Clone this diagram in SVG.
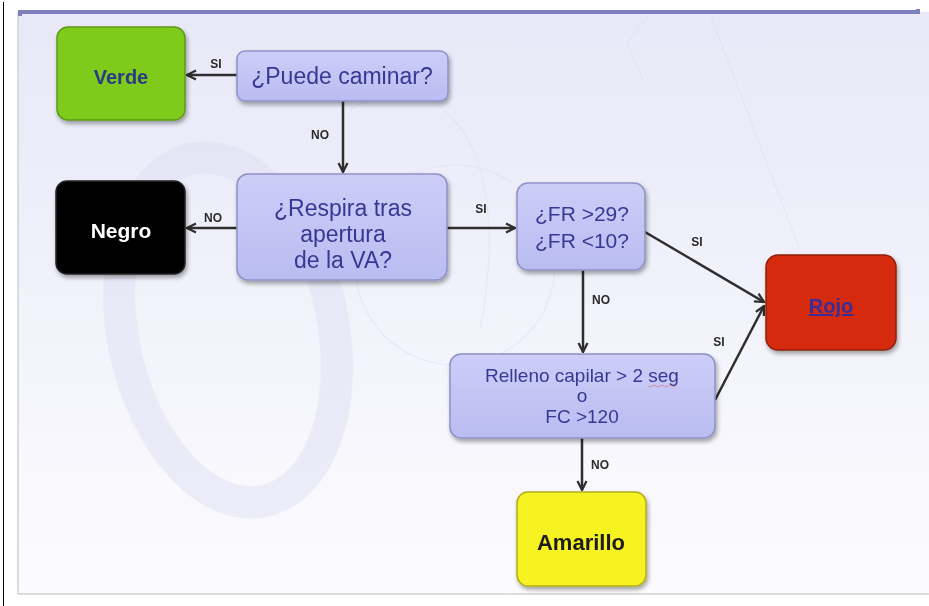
<svg xmlns="http://www.w3.org/2000/svg" width="929" height="606" viewBox="0 0 929 606">
<style>
.box{stroke-width:1.5}
.q{fill:url(#lav);stroke:#8e91c6}
.qt{font-family:"Liberation Sans",Arial,sans-serif;fill:#363894;text-anchor:middle}
.rt{font-family:"Liberation Sans",Arial,sans-serif;font-weight:bold;text-anchor:middle}
.lbl{font-family:"Liberation Sans",Arial,sans-serif;font-weight:bold;font-size:12px;fill:#2a2a2a;text-anchor:middle}
.con{stroke:#2e2e2e;stroke-width:2.5;fill:none;marker-end:url(#ah)}
.wm{fill:none;stroke:#d9d9f0}
</style>
<defs>
<linearGradient id="bg" x1="0" y1="0" x2="0" y2="1">
<stop offset="0" stop-color="#e8e8f8"/>
<stop offset="0.6" stop-color="#f4f4fc"/>
<stop offset="1" stop-color="#fcfcfe"/>
</linearGradient>
<linearGradient id="lav" x1="0" y1="0" x2="0" y2="1">
<stop offset="0" stop-color="#ccceF8"/>
<stop offset="1" stop-color="#b9bcf0"/>
</linearGradient>
<filter id="sh" x="-10%" y="-10%" width="130%" height="140%">
<feDropShadow dx="1.5" dy="3" stdDeviation="2.2" flood-color="#000" flood-opacity="0.35"/>
</filter>
<marker id="ah" viewBox="0 0 10 10" refX="9" refY="5" markerWidth="4.5" markerHeight="4.5" orient="auto" markerUnits="strokeWidth">
<path d="M1,1 L9,5 L1,9" fill="none" stroke="#2e2e2e" stroke-width="2"/>
</marker>
</defs>
<rect x="0" y="0" width="929" height="606" fill="#ffffff"/>
<line x1="3.5" y1="2" x2="3.5" y2="606" stroke="#000" stroke-width="1"/>
<rect x="18" y="12" width="911" height="582" fill="url(#bg)"/>
<line x1="18" y1="12" x2="18" y2="594" stroke="#d0d0d8" stroke-width="1.5"/>
<line x1="18" y1="594" x2="929" y2="594" stroke="#d0d0d6" stroke-width="1.5"/>
<path d="M20,16 L20,12 L918,12 L918,9" fill="none" stroke="#7c80bd" stroke-width="4"/>
<g id="watermark" opacity="0.4">
<ellipse cx="228" cy="330" rx="105" ry="175" transform="rotate(-12 228 330)" stroke-width="32" class="wm"/>
<circle cx="455" cy="265" r="100" stroke-width="1.2" class="wm"/>
<path d="M350,110 C420,60 520,120 480,330" stroke-width="1.2" class="wm"/>
<line x1="710" y1="14" x2="800" y2="250" stroke-width="1.2" class="wm"/>
<path d="M650,14 L627,43 L643,80" stroke-width="1.2" class="wm"/>
</g>
<g id="connectors">
<line class="con" x1="237" y1="75" x2="187" y2="75"/>
<line class="con" x1="343" y1="101" x2="343" y2="172"/>
<line class="con" x1="237" y1="228" x2="187" y2="228"/>
<line class="con" x1="447" y1="228" x2="515" y2="228"/>
<line class="con" x1="645" y1="232" x2="764" y2="302"/>
<line class="con" x1="583" y1="270" x2="583" y2="352"/>
<line class="con" x1="715" y1="400" x2="764" y2="306"/>
<line class="con" x1="582" y1="438" x2="582" y2="490"/>
<text class="lbl" x="216" y="68">SI</text>
<text class="lbl" x="320" y="139">NO</text>
<text class="lbl" x="213" y="222">NO</text>
<text class="lbl" x="481" y="213">SI</text>
<text class="lbl" x="697" y="246">SI</text>
<text class="lbl" x="601" y="304">NO</text>
<text class="lbl" x="719" y="346">SI</text>
<text class="lbl" x="600" y="469">NO</text>
</g>
<g id="verde">
<rect class="box" x="57" y="27" width="128" height="93" rx="11" fill="#7fcb1d" stroke="#5d9a14" filter="url(#sh)"/>
<text class="rt" x="121" y="84" font-size="20" fill="#2b3a86">Verde</text>
</g>
<g id="puede">
<rect class="box q" x="237" y="51" width="211" height="50" rx="8" filter="url(#sh)"/>
<text class="qt" x="342" y="84" font-size="23">¿Puede caminar?</text>
</g>
<g id="negro">
<rect class="box" x="56" y="181" width="129" height="93" rx="11" fill="#050505" stroke="#222" filter="url(#sh)"/>
<text class="rt" x="121" y="238" font-size="21" fill="#ffffff">Negro</text>
</g>
<g id="respira">
<rect class="box q" x="237" y="174" width="210" height="106" rx="11" filter="url(#sh)"/>
<text class="qt" x="343" y="216" font-size="23">¿Respira tras</text>
<text class="qt" x="343" y="242" font-size="23">apertura</text>
<text class="qt" x="343" y="268" font-size="23">de la VA?</text>
</g>
<g id="fr">
<rect class="box q" x="517" y="183" width="128" height="87" rx="11" filter="url(#sh)"/>
<text class="qt" x="582" y="221" font-size="21">¿FR &gt;29?</text>
<text class="qt" x="582" y="248" font-size="21">¿FR &lt;10?</text>
</g>
<g id="rojo">
<rect class="box" x="766" y="255" width="130" height="95" rx="12" fill="#d52b0a" stroke="#8e1f08" filter="url(#sh)"/>
<text class="rt" x="831" y="313" font-size="20" fill="#3a2d99" text-decoration="underline">Rojo</text>
</g>
<g id="relleno">
<rect class="box q" x="450" y="354" width="265" height="84" rx="11" filter="url(#sh)"/>
<text class="qt" x="582" y="382" font-size="19">Relleno capilar &gt; 2 seg</text>
<path d="M648,386 q2,2 4,0 t4,0 t4,0 t4,0 t4,0 t4,0 t4,0" fill="none" stroke="#e07070" stroke-width="0.8" opacity="0.8"/>
<text class="qt" x="582" y="402" font-size="19">o</text>
<text class="qt" x="582" y="423" font-size="19">FC &gt;120</text>
</g>
<g id="amarillo">
<rect class="box" x="517" y="492" width="129" height="94" rx="11" fill="#f7f322" stroke="#b3ad1c" filter="url(#sh)"/>
<text class="rt" x="581" y="550" font-size="22" fill="#1c1c1c">Amarillo</text>
</g>
</svg>
